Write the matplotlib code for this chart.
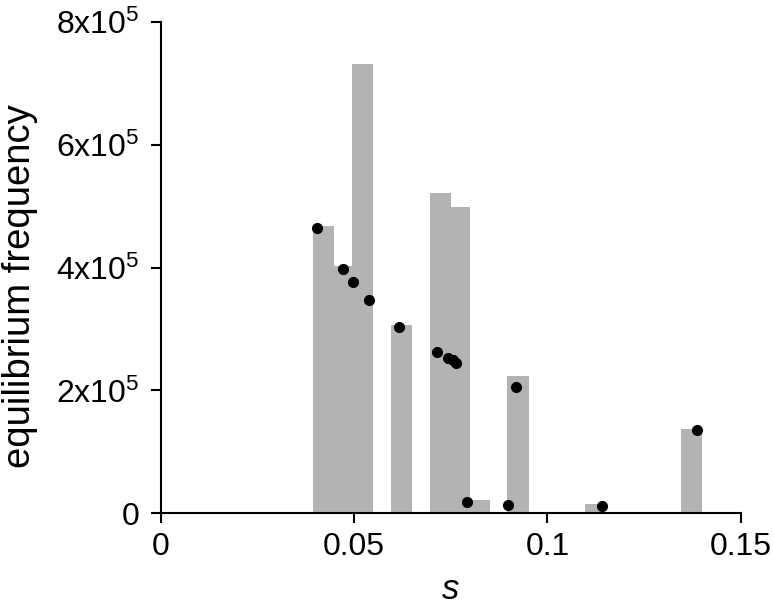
import matplotlib
matplotlib.use("Agg")
import matplotlib.pyplot as plt

plt.rcParams['font.family'] = ['Liberation Sans', 'DejaVu Sans']
plt.rcParams['mathtext.fontset'] = 'custom'
plt.rcParams['mathtext.rm'] = 'Liberation Sans'
plt.rcParams['mathtext.it'] = 'Liberation Sans:italic'

# histogram bars: left edge, right edge, height
bar_left = [0.03925, 0.04483, 0.04941, 0.05942, 0.0695, 0.0750, 0.0800, 0.0896, 0.1098, 0.1345]
bar_right = [0.04483, 0.04941, 0.05491, 0.0650, 0.0750, 0.0800, 0.0851, 0.0951, 0.1141, 0.1399]
bar_height = [4.68e5, 4.02e5, 7.31e5, 3.06e5, 5.21e5, 4.98e5, 0.217e5, 2.24e5, 0.15e5, 1.38e5]

# points
pt_s = [0.0404, 0.0470, 0.0496, 0.0538, 0.0616, 0.0715, 0.0742, 0.0756, 0.0763,
        0.0793, 0.0898, 0.0918, 0.1141, 0.1387]
pt_freq = [4.65e5, 3.98e5, 3.76e5, 3.47e5, 3.03e5, 2.63e5, 2.52e5, 2.50e5, 2.45e5,
           0.18e5, 0.14e5, 2.05e5, 0.114e5, 1.35e5]

x_ticks = [0, 0.05, 0.1, 0.15]
x_ticklabels = ['0', '0.05', '0.1', '0.15']
y_ticks = [0, 2e5, 4e5, 6e5, 8e5]
y_ticklabels = ['0', '2x10$^5$', '4x10$^5$', '6x10$^5$', '8x10$^5$']

fig = plt.figure(figsize=(7.74, 6.11), dpi=100)
ax = fig.add_axes([0.208, 0.160, 0.957 - 0.208, 0.964 - 0.160])

widths = [r - l for l, r in zip(bar_left, bar_right)]
ax.bar(bar_left, bar_height, width=widths, align='edge', color='#b3b3b3',
       edgecolor='none', zorder=1)
ax.plot(pt_s, pt_freq, 'o', color='black', markersize=7, zorder=3, clip_on=False)

ax.set_xlim(0, 0.15)
ax.set_ylim(0, 8e5)
ax.set_xticks(x_ticks)
ax.set_xticklabels(x_ticklabels)
ax.set_yticks(y_ticks)
ax.set_yticklabels(y_ticklabels)

for sp in ['top', 'right']:
    ax.spines[sp].set_visible(False)
for sp in ['left', 'bottom']:
    ax.spines[sp].set_linewidth(1.5)
ax.tick_params(axis='both', direction='out', length=7.5, width=1.5, labelsize=23)
ax.tick_params(axis='x', pad=6)
ax.tick_params(axis='y', pad=8)

ax.set_xlabel('s', fontsize=25, style='italic', labelpad=8)
ax.set_ylabel('equilibrium frequency', fontsize=27.5)
ax.yaxis.set_label_coords(-0.212, 0.462)

fig.savefig('out.png', dpi=100)
